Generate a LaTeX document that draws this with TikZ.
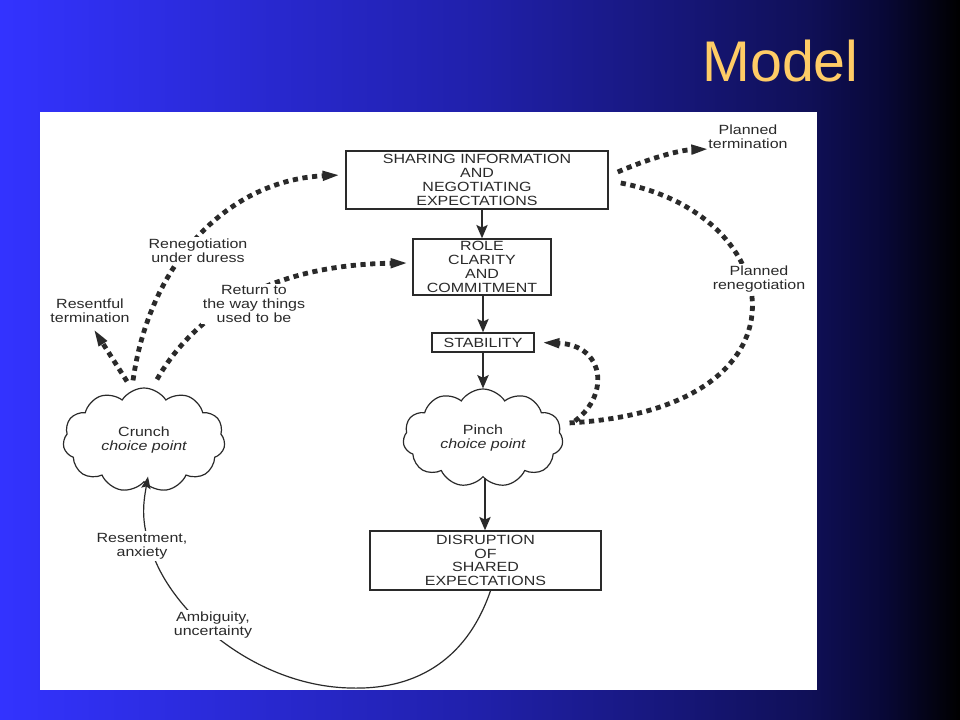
\documentclass[tikz,border=0pt]{standalone}
\usepackage{fontspec}
\newfontfamily\diag{Liberation Sans}[FakeStretch=1.2]
\newfontfamily\ttl{Liberation Sans}
\usetikzlibrary{arrows.meta,shapes.symbols,calc}
\definecolor{ink}{HTML}{2A2A2A}
\definecolor{titlecol}{HTML}{FFCC66}
\definecolor{bgA}{RGB}{51,51,255}
\definecolor{bgB}{RGB}{32,32,170}
\definecolor{bgC}{RGB}{16,16,88}
\definecolor{bgD}{RGB}{8,8,55}
\pgfdeclarehorizontalshading{slidebg}{100bp}{color(0bp)=(bgA); color(25bp)=(bgA); color(50bp)=(bgB); color(67bp)=(bgC); color(71bp)=(bgD); color(75bp)=(black); color(100bp)=(black)}
\tikzset{
  txt/.style={text=ink, font=\diag\fontsize{10}{10.3}\selectfont, align=center},
  box/.style={txt, draw=ink, line width=1.1pt, fill=white, inner sep=0pt},
  lbl/.style={txt, inner sep=0.5pt},
  lblf/.style={lbl, fill=white, inner sep=1.5pt},
  cloudy/.style={txt, cloud, cloud puffs=11, cloud puff arc=115, aspect=1.6, draw=ink, line width=0.9pt, fill=white, inner sep=0pt, font=\diag\fontsize{10}{11}\selectfont},
  dots/.style={draw=ink, line width=3.6pt, dash pattern=on 3.9pt off 3.4pt},
  dtip/.style={-{Triangle[length=14pt,width=6.5pt]}},
  flow/.style={draw=ink, line width=1.2pt, -{Stealth[length=10pt,width=8.5pt,inset=2pt]}},
  thinflow/.style={draw=ink, line width=0.9pt, -{Stealth[length=9pt,width=7pt,inset=1.5pt]}}
}
\begin{document}
\begin{tikzpicture}[x=0.75pt,y=-0.75pt]
\useasboundingbox (0,0) rectangle (960,720);
\shade[shading=slidebg] (0,0) rectangle (960,720);
\fill[white] (40,112) rectangle (817,690);
% title
\node[anchor=base, text=titlecol, font=\ttl\fontsize{43}{43}\selectfont] (title) at (780.5,82) {Model};
% main nodes
\node[box, minimum width=196.5pt, minimum height=43.5pt] (box1) at (477,180) {SHARING INFORMATION\\AND\\NEGOTIATING\\EXPECTATIONS};
\node[box, minimum width=103.5pt, minimum height=42pt] (box2) at (482,267) {ROLE\\CLARITY\\AND\\COMMITMENT};
\node[box, minimum width=76.5pt, minimum height=14.25pt] (stab) at (483,342.5) {STABILITY};
\node[cloudy, minimum width=120pt, minimum height=73.5pt] (pinch) at (483,438) {Pinch\\{\itshape choice point}};
\node[cloudy, minimum width=121.5pt, minimum height=78pt] (crunch) at (144,440) {Crunch\\{\itshape choice point}};
\node[box, minimum width=173.25pt, minimum height=44.25pt] (disr) at (485.5,560.5) {DISRUPTION\\OF\\SHARED\\EXPECTATIONS};
% free ends
\coordinate (restip) at (93,328);
\coordinate (pttip) at (710,149);
% solid flow
\draw[flow] (box2.north |- box1.south) -- (box2.north);
\draw[flow] (stab.north |- box2.south) -- (stab.north);
\draw[flow] (stab.south) -- (pinch.north);
\draw[flow] ($(pinch.south)+(2,0)$) -- ($(pinch.south |- disr.north)+(2,0)$);
% bottom arc
\draw[thinflow] ($(disr.south)+(5,0)$) .. controls (465,665) and (410,690) .. (350,688) .. controls (260,686) and (180,620) .. (155,560) .. controls (140,525) and (143,505) .. ($(crunch.south)+(4,-6)$);
% dotted connectors
\draw[dots,dtip] ($(crunch.north)+(-11,-7)$) .. controls (150,260) and (230,180) .. ($(box1.west)+(-4,-5)$);
\draw[dots,dtip] ($(crunch.north)+(-17,-6)$) -- (restip);
\draw[dots,dtip] ($(crunch.north)+(13,-8)$) .. controls (185,330) and (250,265) .. ($(box2.west)+(-3,-4)$);
\draw[dots,dtip] ($(box1.east)+(9,-8)$) .. controls (650,158) and (680,150) .. (pttip);
\draw[dots] ($(box1.east)+(12,3)$) .. controls (790,215) and (820,410) .. ($(pinch.east)+(5,-15)$);
\draw[dots,dtip] ($(pinch.east)+(12,-17)$) .. controls (610,395) and (605,345) .. ($(stab.east)+(6,0)$);
% labels
\node[lblf] (lren) at (198,251) {Renegotiation\\under duress};
\node[lbl] (lres) at (90,311) {Resentful\\termination};
\node[lblf] (lret) at (254,304) {Return to\\the way things\\used to be};
\node[lbl] (lpt) at (748,137) {Planned\\termination};
\node[lblf] (lpr) at (759,279) {Planned\\renegotiation};
\node[lblf] (lra) at (142,546) {Resentment,\\anxiety};
\node[lblf] (lam) at (213,625) {Ambiguity,\\uncertainty};
\end{tikzpicture}
\end{document}
